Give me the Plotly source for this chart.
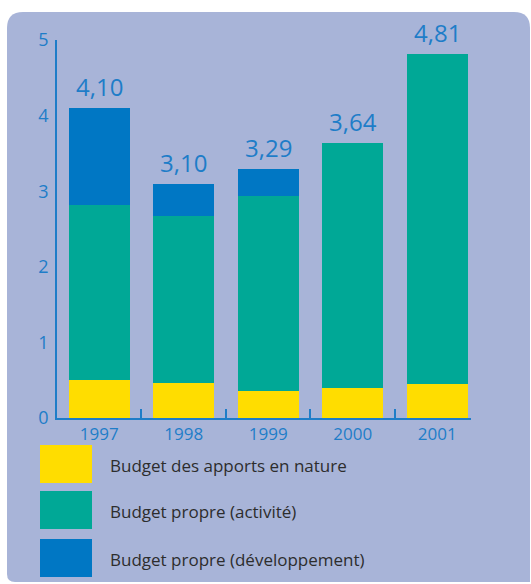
import plotly.graph_objects as go

# ── data ───────────────────────────────────────────────────────────────────────
years = ["1997", "1998", "1999", "2000", "2001"]
apports_nature = [0.50, 0.46, 0.36, 0.40, 0.45]
propre_activite = [2.32, 2.21, 2.58, 3.24, 4.36]
propre_developpement = [1.28, 0.43, 0.35, 0.0, 0.0]
totals = [4.10, 3.10, 3.29, 3.64, 4.81]

series_names = [
    "Budget des apports en nature",
    "Budget propre (activité)",
    "Budget propre (développement)",
]
series_colors = ["#FFDD00", "#00A896", "#0077C4"]

W, H = 531, 584
BLUE_TXT = "#1E7DC8"
PANEL = "#A8B4D8"
FONT = "Open Sans"


def px(x):
    return x / W


def py(y):
    return 1 - y / H


fig = go.Figure()
for name, vals, col in zip(series_names,
                           [apports_nature, propre_activite, propre_developpement],
                           series_colors):
    fig.add_trace(go.Bar(x=years, y=vals, name=name, marker=dict(color=col, line=dict(width=0)),
                         showlegend=False, hoverinfo="skip"))

# totals above the bars (category index as x)
for i, tot in enumerate(totals):
    fig.add_annotation(x=i, y=tot, xref="x", yref="y", text=f"{tot:.2f}".replace(".", ","),
                       showarrow=False, yanchor="bottom", yshift=3,
                       font=dict(family=FONT, size=24, color=BLUE_TXT))

# rounded panel background
x0, x1, y0, y1, r = px(7), px(530), py(582), py(12), 16
rx, ry = r / W, r / H
panel_path = (f"M {x0},{y0 + ry} L {x0},{y1 - ry} Q {x0},{y1} {x0 + rx},{y1} "
              f"L {x1 - rx},{y1} Q {x1},{y1} {x1},{y1 - ry} "
              f"L {x1},{y0} L {x0 + rx / 2},{y0} Q {x0},{y0} {x0},{y0 + ry / 2} Z")
shapes = [dict(type="path", path=panel_path, xref="paper", yref="paper",
               fillcolor=PANEL, line=dict(width=0), layer="below")]

# legend drawn by hand (large swatches)
leg_top = [445, 491, 539]
for i, (name, col) in enumerate(zip(series_names, series_colors)):
    t = leg_top[i]
    shapes.append(dict(type="rect", xref="paper", yref="paper",
                       x0=px(40), x1=px(92), y0=py(t + 38), y1=py(t),
                       fillcolor=col, line=dict(width=0)))
    fig.add_annotation(x=px(108), y=py(t + 20), xref="paper", yref="paper",
                       text=name, showarrow=False, xanchor="left", yanchor="middle",
                       font=dict(family=FONT, size=17, color="#2D2D2D"))

fig.update_layout(
    width=W, height=H,
    barmode="stack", bargap=0.28,
    paper_bgcolor="white", plot_bgcolor="rgba(0,0,0,0)",
    margin=dict(l=0, r=0, t=0, b=0, pad=0),
    shapes=shapes,
    showlegend=False,
    xaxis=dict(domain=[px(57), px(471)], range=[-0.5, 4.4], type="category",
               automargin=False,
               showline=True, linecolor=BLUE_TXT, linewidth=1.5,
               ticks="inside", tickson="boundaries", ticklen=9, tickcolor=BLUE_TXT, tickwidth=1.5,
               showgrid=False, zeroline=False,
               tickfont=dict(family=FONT, size=17, color=BLUE_TXT)),
    yaxis=dict(domain=[py(418), py(40)], range=[0, 5], dtick=1,
               automargin=False,
               showline=True, linecolor=BLUE_TXT, linewidth=1.5,
               ticks="", showgrid=False, zeroline=False, ticklabelstandoff=3,
               tickfont=dict(family=FONT, size=18, color=BLUE_TXT)),
)

fig.write_html("out.html", config={"displayModeBar": False},
               post_script="document.body.style.margin='0';")
